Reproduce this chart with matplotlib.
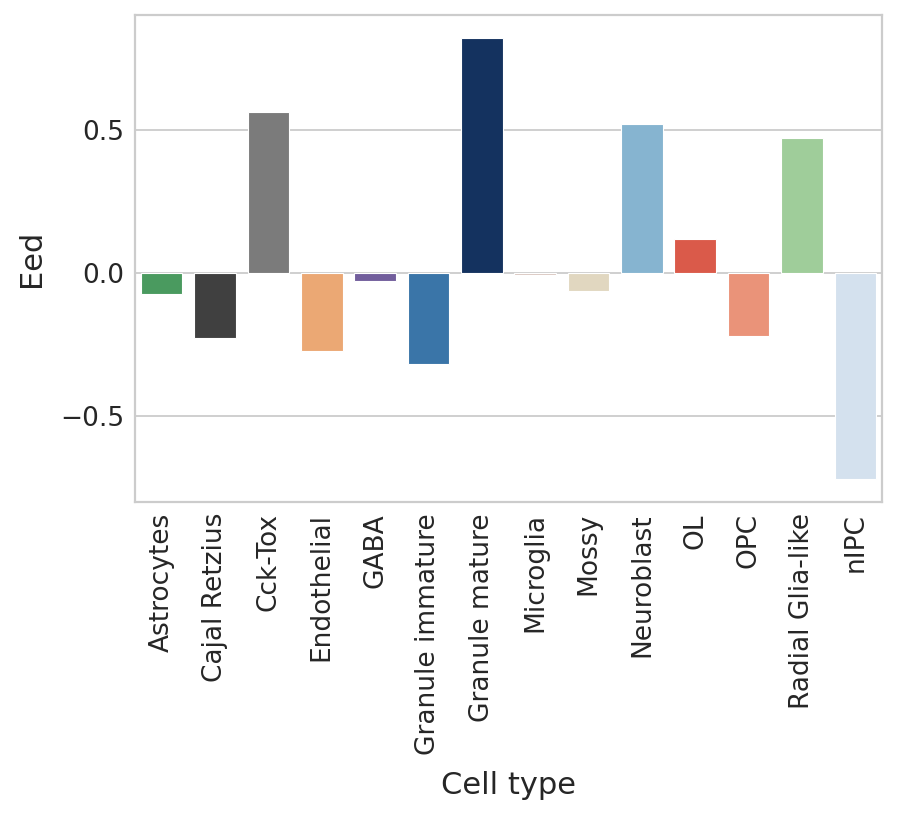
import matplotlib
matplotlib.use("Agg")
import matplotlib.pyplot as plt

categories = ["Astrocytes", "Cajal Retzius", "Cck-Tox", "Endothelial", "GABA",
              "Granule immature", "Granule mature", "Microglia", "Mossy",
              "Neuroblast", "OL", "OPC", "Radial Glia-like", "nIPC"]
values = [-0.074, -0.228, 0.565, -0.274, -0.028, -0.319, 0.825, -0.006,
          -0.062, 0.523, 0.119, -0.220, 0.474, -0.722]
colors = ["#4a9a5f", "#404040", "#7b7b7b", "#eba874", "#725e9c", "#3a75a8",
          "#14325f", "#d9c6bf", "#e1d7c0", "#86b4d0", "#da5a4a", "#ea9379",
          "#9fcd9a", "#d4e1ee"]

plt.rcParams['font.family'] = ['DejaVu Sans']
fig = plt.figure(figsize=(8.98, 8.14), dpi=100)
ax = fig.add_axes([135/898, 1-502/814, (882-135)/898, (502-15)/814])
ax.set_axisbelow(True)
ax.grid(axis='y', color='#cccccc', linewidth=1.3)
ax.bar(range(len(categories)), values, width=0.78, color=colors, zorder=2,
       edgecolor='white', linewidth=0.8)
ax.set_xlim(-0.5, len(categories)-0.5)
ax.set_ylim(-0.803, 0.905)
ax.set_yticks([-0.5, 0.0, 0.5])
ax.set_yticklabels(["\u22120.5", "0.0", "0.5"])
ax.set_xticks(range(len(categories)))
ax.set_xticklabels(categories, rotation=90)
for s in ax.spines.values():
    s.set_color('#cccccc')
    s.set_linewidth(1.6)
ax.tick_params(axis='both', length=0, labelsize=19, colors='#262626', pad=8)
ax.set_ylabel("Eed", fontsize=22, color='#262626', labelpad=10)
ax.set_xlabel("Cell type", fontsize=22, color='#262626', labelpad=12)
fig.savefig("out.png", dpi=100)
